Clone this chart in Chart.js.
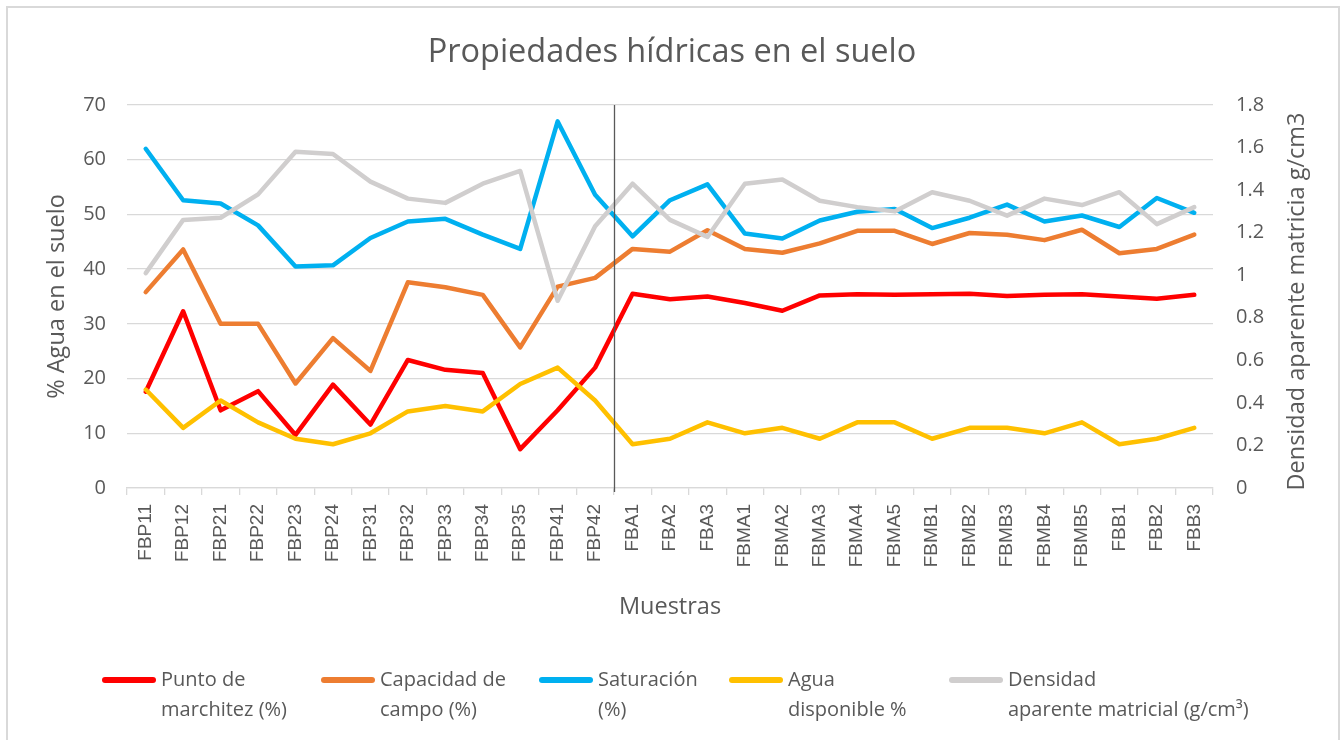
<!DOCTYPE html>
<html>
<head>
<meta charset="utf-8">
<script src="https://cdn.jsdelivr.net/npm/chart.js@4.4.1/dist/chart.umd.min.js"></script>
<style>
  html, body { margin: 0; padding: 0; background: #fff; }
  #wrap { position: relative; width: 1344px; height: 740px; }
  #legend { position: absolute; left: 0; top: 0; font-family: "Open Sans"; font-size: 20px; color: #595959; }
  .item { position: absolute; top: 664px; display: flex; }
  .sw { width: 54px; height: 6px; border-radius: 3px; margin-top: 13px; margin-right: 5px; }
  .txt { line-height: 30px; white-space: nowrap; }
</style>
</head>
<body>
<div id="wrap">
  <canvas id="soilChart" width="1344" height="740"></canvas>
  <div id="legend"></div>
</div>
<script>
const muestras = ["FBP11","FBP12","FBP21","FBP22","FBP23","FBP24","FBP31","FBP32","FBP33","FBP34","FBP35","FBP41","FBP42",
  "FBA1","FBA2","FBA3","FBMA1","FBMA2","FBMA3","FBMA4","FBMA5","FBMB1","FBMB2","FBMB3","FBMB4","FBMB5","FBB1","FBB2","FBB3"];

const puntoMarchitez = [17.6, 32.3, 14.2, 17.7, 9.7, 18.9, 11.6, 23.4, 21.6, 21.0, 7.1, 14.2, 22.0,
  35.5, 34.5, 35.0, 33.8, 32.4, 35.2, 35.4, 35.3, 35.4, 35.5, 35.1, 35.3, 35.4, 35.0, 34.6, 35.3];
const capacidadCampo = [35.8, 43.6, 30.0, 30.0, 19.1, 27.4, 21.4, 37.6, 36.7, 35.3, 25.7, 36.8, 38.4,
  43.7, 43.2, 47.1, 43.7, 43.0, 44.7, 47.0, 47.0, 44.6, 46.6, 46.3, 45.3, 47.2, 42.9, 43.7, 46.3];
const saturacion = [62.0, 52.6, 52.0, 48.0, 40.5, 40.7, 45.7, 48.7, 49.2, 46.3, 43.7, 67.0, 53.6,
  46.0, 52.6, 55.5, 46.5, 45.6, 48.9, 50.5, 51.0, 47.5, 49.4, 51.8, 48.7, 49.8, 47.7, 53.0, 50.3];
const aguaDisponible = [18, 11, 16, 12, 9, 8, 10, 14, 15, 14, 19, 22, 16,
  8, 9, 12, 10, 11, 9, 12, 12, 9, 11, 11, 10, 12, 8, 9, 11];
const densidad = [1.01, 1.26, 1.27, 1.38, 1.58, 1.57, 1.44, 1.36, 1.34, 1.43, 1.49, 0.88, 1.23,
  1.43, 1.26, 1.18, 1.43, 1.45, 1.35, 1.32, 1.30, 1.39, 1.35, 1.28, 1.36, 1.33, 1.39, 1.24, 1.32];

const series = [
  { label: ["Punto de", "marchitez (%)"], data: puntoMarchitez, color: "#FF0000", axis: "y", left: 102 },
  { label: ["Capacidad de", "campo (%)"], data: capacidadCampo, color: "#ED7D31", axis: "y", left: 321 },
  { label: ["Saturación", "(%)"], data: saturacion, color: "#00B0F0", axis: "y", left: 539 },
  { label: ["Agua", "disponible %"], data: aguaDisponible, color: "#FFC000", axis: "y", left: 729 },
  { label: ["Densidad", "aparente matricial (g/cm³)"], data: densidad, color: "#D0CECE", axis: "y1", left: 949 }
];

const grey = "#595959";
Chart.defaults.font.family = "Open Sans";
Chart.defaults.color = grey;

// lineas extra: separador, titulo del eje derecho y marco
const extras = {
  id: "extras",
  afterDatasetsDraw(chart) {
    const { ctx, chartArea, scales } = chart;
    const xs = (scales.x.getPixelForValue(12) + scales.x.getPixelForValue(13)) / 2;
    ctx.save();
    ctx.strokeStyle = grey;
    ctx.lineWidth = 1.3;
    ctx.beginPath();
    ctx.moveTo(Math.round(xs) + 0.5, chartArea.top);
    ctx.lineTo(Math.round(xs) + 0.5, chartArea.bottom + 4);
    ctx.stroke();
    ctx.restore();
  },
  afterDraw(chart) {
    const { ctx, chartArea } = chart;
    ctx.save();
    ctx.translate(1297, (chartArea.top + chartArea.bottom) / 2 + 5);
    ctx.rotate(-Math.PI / 2);
    ctx.font = "23.5px 'Open Sans'";
    ctx.fillStyle = grey;
    ctx.textAlign = "center";
    ctx.textBaseline = "middle";
    ctx.fillText("Densidad aparente matricia g/cm3", 0, 0);
    ctx.restore();
    ctx.save();
    ctx.strokeStyle = "#d9d9d9";
    ctx.lineWidth = 2;
    ctx.beginPath();
    ctx.moveTo(7, 740);
    ctx.lineTo(7, 7);
    ctx.lineTo(1339, 7);
    ctx.lineTo(1339, 740);
    ctx.stroke();
    ctx.restore();
  }
};

new Chart(document.getElementById("soilChart"), {
  type: "line",
  data: {
    labels: muestras,
    datasets: series.map((s, i) => ({
      label: s.label.join(" "),
      data: s.data,
      yAxisID: s.axis,
      borderColor: s.color,
      backgroundColor: s.color,
      borderWidth: 4.5,
      pointRadius: 0,
      tension: 0,
      fill: false,
      borderCapStyle: "round",
      borderJoinStyle: "round",
      order: series.length - i
    }))
  },
  options: {
    responsive: false,
    animation: false,
    layout: { padding: { bottom: 118 } },
    plugins: {
      legend: { display: false },
      tooltip: { enabled: false },
      title: {
        display: true,
        text: "Propiedades hídricas en el suelo",
        font: { size: 32.5, weight: "normal" },
        color: grey,
        padding: { top: 33, bottom: 33 }
      }
    },
    scales: {
      x: {
        offset: true,
        grid: { offset: true, drawOnChartArea: false, tickLength: 7, color: "#d9d9d9", lineWidth: 1.3 },
        border: { color: "#d9d9d9", width: 1.3 },
        ticks: { minRotation: 90, maxRotation: 90, autoSkip: false, font: { family: "Liberation Sans", size: 19 }, padding: 9 },
        title: { display: true, text: "Muestras", font: { size: 23.5 }, padding: { bottom: 1 } },
        afterFit: s => { s.height = 134; }
      },
      y: {
        position: "left",
        min: 0, max: 70,
        ticks: { stepSize: 10, font: { size: 20 }, padding: 21 },
        grid: { color: "#d9d9d9", lineWidth: 1.3, drawTicks: false },
        border: { display: false },
        title: { display: true, text: "% Agua en el suelo", font: { size: 23.5 }, padding: { top: 43 } },
        afterFit: s => { s.width = 127; }
      },
      y1: {
        position: "right",
        min: 0, max: 1.8,
        ticks: { stepSize: 0.2, font: { size: 20 }, padding: 23, callback: v => String(+v.toFixed(1)) },
        grid: { drawOnChartArea: false, drawTicks: false },
        border: { display: false },
        afterFit: s => { s.width = 131; }
      }
    }
  },
  plugins: [extras]
});

// leyenda en dos lineas, como en el original
const legend = document.getElementById("legend");
series.forEach(s => {
  const item = document.createElement("div");
  item.className = "item";
  item.style.left = s.left + "px";
  item.innerHTML = '<div class="sw" style="background:' + s.color + '"></div><div class="txt">' + s.label.join("<br>") + "</div>";
  legend.appendChild(item);
});
</script>
</body>
</html>
